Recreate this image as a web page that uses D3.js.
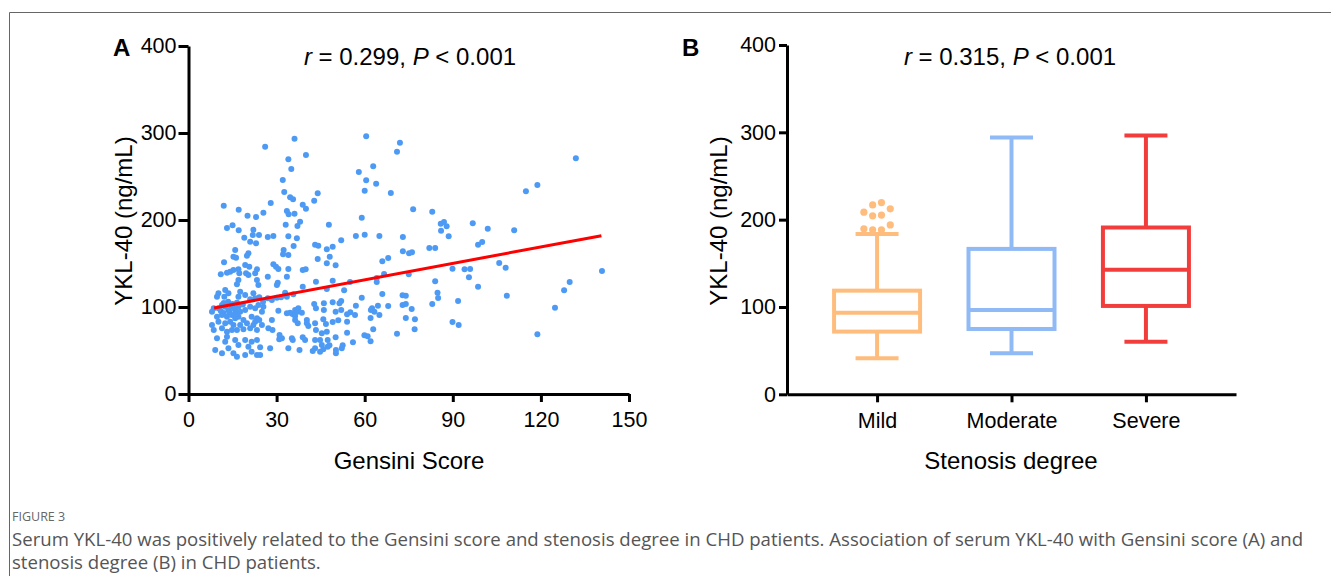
<!DOCTYPE html>
<html>
<head>
<meta charset="utf-8">
<script src="https://cdn.jsdelivr.net/npm/d3@7"></script>
<style>
  body { margin: 0; background: #fff; }
  svg { display: block; }
  .tick text { font-family: "Liberation Sans", Arial, sans-serif; }
</style>
</head>
<body>
<script>
// panel A : Gensini score vs YKL-40 (ng/mL)
var scatterPoints = [
  [36.1,293.5],[26.1,284.3],[40.0,274.7],[34.0,269.8],[35.0,258.6],[32.1,246],[32.6,232.2],[44.0,230.7],[34.6,226.1],[35.6,223.8],
  [42.8,222.2],[28.0,219.5],[12.0,216.4],[38.9,217.6],[40.0,213],[17.1,211.8],[25.5,208.4],[33.5,210.3],[34.1,206.6],[36.1,207.2],
  [20.1,204.9],[23.0,203.4],[38.0,198],[37.1,193.1],[33.1,194.6],[47.8,194.6],[13.1,190.8],[15.0,193.9],[17.1,188.2],[22.1,188.9],
  [21.9,182.8],[24.0,182.8],[19.0,179.7],[27.0,180.5],[28.9,181.6],[34.0,181.3],[36.9,179],
  [60.5,296.2],[72.0,288.9],[71.0,278.5],[62.9,261.7],[58.0,255.2],[60.5,245.6],[63.9,241.7],[60.0,233.7],[68.9,231],[76.5,212.3],
  [83.0,209.5],[59.0,202.7],[85.9,195.8],[87.0,197.7],[87.9,192.8],[86.0,187.7],[96.8,196.2],[88.6,181.3],[57.0,181.6],[60.0,183.1],
  [65.0,181.6],[73.0,180.5],[52.0,176.7],[47.1,166.3],[49.1,169.3],[48.1,157.8],[50.1,147.9],[73.0,164],[75.1,161.7],[76.1,162.9],
  [82.0,167.8],[84.0,167.8],[98.6,171.6],[68.0,156.3],[66.0,152.5],[89.9,144],[94.0,143.3],[95.9,143.7],[95.5,134.1],[98.6,123.3],
  [66.6,137.9],[75.0,137.6],[64.1,133.3],[64.1,128.7],[84.0,129.5],[49.1,130.3],[55.0,128.7],[47.1,120.7],[53.0,119.2],[84.8,116.4],
  [85.0,110.3],[66.0,114.9],[72.9,113.4],[74.0,113],[59.0,110.7],[91.8,106.9],[83.0,103.4],[52.0,106.9],[51.4,104.3],[49.1,105.4],
  [46.1,104.3],[57.0,101.5],[62.5,98.5],[63.3,94.6],[62.1,96.6],[64.5,101.5],[68.0,101.1],[72.9,102.3],[74.0,103.4],[76.0,97.7],
  [46.1,96.6],[50.1,94.6],[52.0,96.6],[55.1,93.9],[54.0,91.6],[56.7,90.8],[62.0,87.4],[65.0,90.8],[74.0,87.4],[77.1,85.9],
  [89.9,82.8],[92.0,79.3],[45.9,85.9],[46.8,80.5],[49.1,82.8],[51.0,84.7],[54.0,83.1],[62.9,74.4],[77.0,74.4],[47.1,71.6],
  [54.0,70.5],[59.9,67.5],[61.0,66.3],[62.0,60.6],[71.0,69.3],[50.1,65.2],[56.0,59.4],[44.8,62.1],[45.4,56.3],[45.9,51.4],
  [48.0,56],[50.2,50.6],[50.2,46.8],[52.2,52.5],[52.5,56],
  [131.9,270.9],[118.8,240.2],[114.9,233],[101.9,190],[110.9,188.2],[100.0,174.7],[105.8,150.6],[108.0,145.2],[108.4,113],[140.8,141.4],
  [129.8,128.7],[127.9,119.2],[124.8,99.2],[118.8,68.6],
  [35.8,170.1],[43.1,171.6],[44.2,170.5],[32.4,165.5],[34.0,159.8],[32.2,160.6],[44.0,155.2],[28.9,149.1],[29.8,146.3],[30.6,143.7],
  [23.3,143.3],[34.0,143.7],[38.9,142.5],[39.9,143.3],[47.1,150.2],[27.0,134.8],[33.5,134.8],[30.4,127.9],[30.1,125.3],[43.4,129.1],
  [38.9,123.3],[35.7,114.6],[32.9,116.4],[33.5,111.8],[27.0,110],[28.4,108],[25.4,106.1],[24.1,111.1],[30.1,110.7],[31.5,111.1],
  [23.8,102.3],[25.5,100.3],[25.0,94.6],[30.6,95.7],[33.5,92.8],[34.6,93.4],[35.4,92],[36.3,96.6],[37.4,98.5],[37.1,94.6],
  [36.3,89.7],[42.8,103.4],[43.4,98.5],[38.6,93.4],[40.3,85.1],[40.3,81.3],[40.8,78.2],[22.7,83.1],[24.1,85.1],[25.0,79.3],
  [28.4,85.1],[27.2,75.5],[28.6,73.6],[36.3,85.1],[37.2,81.3],[43.1,81.3],[43.4,73.6],[45.4,69.8],[31.0,67.8],[31.8,64],
  [30.9,62.9],[35.2,64],[35.5,62.1],[38.9,65.2],[39.7,62.1],[43.1,62.1],[43.1,52.5],[42.3,49.4],[24.4,53.7],[27.8,52.5],
  [37.8,50.6],[44.8,48.6],[34.0,52.5],[47.4,62.1],[47.4,54.4],[24.4,44.8],
  [21.0,175.1],[23.0,173.2],[15.9,165.5],[15.3,157.8],[16.2,156.7],[20.4,161.7],[19.9,159],[12.1,151.4],[19.3,148.3],[20.7,146.3],
  [11.0,137.6],[13.1,139.4],[14.2,140.6],[15.3,142.5],[17.0,143.3],[17.3,138.7],[19.6,138.7],[20.4,136.8],[22.7,138.7],[17.0,131],
  [16.5,126.1],[23.3,131],[23.8,125.3],[10.2,115.7],[9.7,111.8],[12.5,119.5],[13.6,115.7],[12.2,111.8],[17.6,117.6],[17.0,111.8],
  [19.3,113.8],[22.1,115.7],[22.7,110],[21.0,108.8],
  [8.6,98.5],[8.0,94.6],[10.2,98.5],[11.4,102.3],[12.5,100.3],[13.6,96.6],[14.8,100.3],[15.9,96.6],[17.0,100.3],[17.6,94.6],
  [19.3,96.6],[21.0,100.3],[22.7,98.5],[12.0,104.5],[13.5,106],[15.0,103.5],[16.5,105],[14.0,94],[12.0,93],[16.0,92],
  [18.5,103],[11.0,95.5],[15.5,98.5],
  [9.7,88.9],[11.4,90.8],[13.1,88.9],[14.8,90.8],[15.9,87],[17.0,88.9],[18.7,85.1],[21.5,88.9],[23.3,87],[10.2,83.1],
  [12.5,81.3],[14.2,83.1],[15.3,79.3],[17.6,79.3],[19.9,81.3],[22.1,79.3],
  [8.0,79.3],[8.6,73.6],[11.4,75.5],[13.1,71.6],[14.8,73.6],[16.5,73.6],[18.7,74.4],[21.0,75.5],[23.3,73.6],
  [9.7,64],[13.1,65.9],[12.5,60.1],[15.9,62.1],[17.0,56.3],[19.3,62.1],[21.5,60.1],[23.3,62.1],
  [9.1,50.6],[11.4,46.8],[13.6,52.5],[15.3,46.8],[16.5,42.9],[19.3,44.8],[20.4,54.4],[21.5,48.6],[23.3,44.8]
];
// fitted regression line, start and end as drawn
var fitLine = [[8.7, 98.9], [140.6, 182.0]];
var gensiniTicks = [0, 30, 60, 90, 120, 150];
var yklTicks = [0, 100, 200, 300, 400];

// panel B : box plots by stenosis degree
var stenosis = ["Mild", "Moderate", "Severe"];
var boxMin    = [41.3, 47.0, 60.3];
var boxQ1     = [71.8, 74.8, 101.2];
var boxMedian = [93.5, 96.6, 142.5];
var boxQ3     = [118.7, 166.5, 191.0];
var boxMax    = [183.7, 294.1, 296.4];
var mildOutliers = [188.3, 188.3, 189.5, 194.0, 204.4, 205.2, 208.6, 212.4, 216.9, 219.6];
var boxColors = ["#ffbd7d", "#8fbaf5", "#f23d3d"];

var FONT = '"Liberation Sans", Arial, sans-serif';
var TICK_SIZE = 21.5;
var width = 1331, height = 576;

var svg = d3.select("body").append("svg")
  .attr("width", width)
  .attr("height", height);

svg.append("rect").attr("width", width).attr("height", height).attr("fill", "#fff");

// figure frame (left + top)
svg.append("path")
  .attr("d", "M9.5,576 V12.5 H1331")
  .attr("fill", "none")
  .attr("stroke", "#666")
  .attr("stroke-width", 1);

var styleAxis = function(g, fontSize){
  g.select(".domain").attr("stroke", "#000").attr("stroke-width", 3);
  g.selectAll(".tick line").attr("stroke", "#000").attr("stroke-width", 3);
  g.selectAll(".tick text").attr("fill", "#000").style("font-size", fontSize + "px");
};

// ---------- panel A ----------
var xA = d3.scaleLinear().domain([0, 150]).range([188.5, 629]);
var yA = d3.scaleLinear().domain([0, 400]).range([394, 46]);

var gA = svg.append("g");

gA.append("g")
  .attr("transform", "translate(0,394)")
  .call(d3.axisBottom(xA).tickValues(gensiniTicks).tickSize(8).tickSizeOuter(0).tickPadding(10))
  .call(styleAxis, TICK_SIZE);

gA.append("g")
  .attr("transform", "translate(188.5,0)")
  .call(d3.axisLeft(yA).tickValues(yklTicks).tickSize(10).tickSizeOuter(0).tickPadding(2))
  .call(styleAxis, TICK_SIZE);

gA.append("g").selectAll("circle")
  .data(scatterPoints)
  .join("circle")
  .attr("cx", function(d){ return xA(d[0]); })
  .attr("cy", function(d){ return yA(d[1]); })
  .attr("r", 3)
  .attr("fill", "#4d9af5");

gA.append("path")
  .attr("d", d3.line().x(function(d){ return xA(d[0]); }).y(function(d){ return yA(d[1]); })(fitLine))
  .attr("stroke", "#ff0000")
  .attr("stroke-width", 3)
  .attr("fill", "none");

// ---------- panel B ----------
var xB = d3.scalePoint().domain(stenosis).range([787, 1236]).padding(0.67);
var yB = d3.scaleLinear().domain([0, 400]).range([394.3, 45]);

var gB = svg.append("g");

gB.append("g")
  .attr("transform", "translate(0,394.3)")
  .call(d3.axisBottom(xB).tickSize(8).tickSizeOuter(0).tickPadding(10))
  .call(styleAxis, TICK_SIZE);

gB.append("g")
  .attr("transform", "translate(787,0)")
  .call(d3.axisLeft(yB).tickValues(yklTicks).tickSize(8).tickSizeOuter(0).tickPadding(3))
  .call(styleAxis, TICK_SIZE);

var BOX_W = 86, CAP_W = 43;
var boxes = stenosis.map(function(c, i){
  return { cat: c, min: boxMin[i], q1: boxQ1[i], med: boxMedian[i], q3: boxQ3[i], max: boxMax[i], color: boxColors[i] };
});

var bx = gB.append("g").selectAll("g").data(boxes).join("g")
  .attr("stroke", function(d){ return d.color; })
  .attr("stroke-width", 4)
  .attr("fill", "none");

bx.append("line") // whisker low
  .attr("x1", function(d){ return xB(d.cat); }).attr("x2", function(d){ return xB(d.cat); })
  .attr("y1", function(d){ return yB(d.min); }).attr("y2", function(d){ return yB(d.q1); });
bx.append("line") // whisker high
  .attr("x1", function(d){ return xB(d.cat); }).attr("x2", function(d){ return xB(d.cat); })
  .attr("y1", function(d){ return yB(d.q3); }).attr("y2", function(d){ return yB(d.max); });
bx.append("line")
  .attr("x1", function(d){ return xB(d.cat) - CAP_W/2; }).attr("x2", function(d){ return xB(d.cat) + CAP_W/2; })
  .attr("y1", function(d){ return yB(d.min); }).attr("y2", function(d){ return yB(d.min); });
bx.append("line")
  .attr("x1", function(d){ return xB(d.cat) - CAP_W/2; }).attr("x2", function(d){ return xB(d.cat) + CAP_W/2; })
  .attr("y1", function(d){ return yB(d.max); }).attr("y2", function(d){ return yB(d.max); });
bx.append("rect")
  .attr("x", function(d){ return xB(d.cat) - BOX_W/2; })
  .attr("width", BOX_W)
  .attr("y", function(d){ return yB(d.q3); })
  .attr("height", function(d){ return yB(d.q1) - yB(d.q3); })
  .attr("fill", "#fff");
bx.append("line")
  .attr("x1", function(d){ return xB(d.cat) - BOX_W/2; }).attr("x2", function(d){ return xB(d.cat) + BOX_W/2; })
  .attr("y1", function(d){ return yB(d.med); }).attr("y2", function(d){ return yB(d.med); });

// outliers spread sideways so they don't overlap (like GraphPad)
var R_OUT = 3.6;
var placed = [];
var offsets = [-4.4, 4.4, -13.2, 13.2, -22, 22];
mildOutliers.slice().sort(d3.ascending).forEach(function(v){
  var cy = yB(v);
  var dx = offsets.find(function(o){
    return placed.every(function(p){ return Math.hypot(p.dx - o, p.cy - cy) >= 8; });
  });
  placed.push({ dx: dx === undefined ? 0 : dx, cy: cy });
});
gB.append("g").selectAll("circle").data(placed).join("circle")
  .attr("cx", function(d){ return xB("Mild") + d.dx; })
  .attr("cy", function(d){ return d.cy; })
  .attr("r", R_OUT)
  .attr("fill", boxColors[0]);

// ---------- texts ----------
var txt = function(x, y, s, opts){
  opts = opts || {};
  return svg.append("text")
    .attr("x", x).attr("y", y)
    .attr("text-anchor", opts.anchor || "start")
    .attr("font-family", FONT)
    .attr("font-size", opts.size || 24)
    .attr("font-weight", opts.weight || "normal")
    .attr("fill", opts.fill || "#000")
    .attr("transform", opts.rotate ? "rotate(-90," + x + "," + y + ")" : null)
    .text(s);
};

txt(113, 56, "A", { weight: "bold" });
txt(682, 56, "B", { weight: "bold" });

var stat = function(x, r, p){
  var t = svg.append("text")
    .attr("x", x).attr("y", 65)
    .attr("text-anchor", "middle")
    .attr("font-family", FONT)
    .attr("font-size", 24);
  t.append("tspan").attr("font-style", "italic").text("r");
  t.append("tspan").text(" = " + r + ", ");
  t.append("tspan").attr("font-style", "italic").text("P");
  t.append("tspan").text(" < " + p);
};
stat(410, "0.299", "0.001");
stat(1010, "0.315", "0.001");

txt(409, 469, "Gensini Score", { anchor: "middle" });
txt(1011, 469, "Stenosis degree", { anchor: "middle" });
txt(132, 221, "YKL-40 (ng/mL)", { anchor: "middle", rotate: true });
txt(727, 221, "YKL-40 (ng/mL)", { anchor: "middle", rotate: true });

// caption
var CAP_FONT = '"Open Sans", "Noto Sans", sans-serif';
svg.append("text").attr("x", 12).attr("y", 521)
  .attr("font-family", CAP_FONT).attr("font-size", 12.5).attr("fill", "#666")
  .text("FIGURE 3");
svg.append("text").attr("x", 12).attr("y", 546)
  .attr("font-family", CAP_FONT).attr("font-size", 18.6).attr("fill", "#555")
  .text("Serum YKL-40 was positively related to the Gensini score and stenosis degree in CHD patients. Association of serum YKL-40 with Gensini score (A) and");
svg.append("text").attr("x", 12).attr("y", 569)
  .attr("font-family", CAP_FONT).attr("font-size", 18.6).attr("fill", "#555")
  .text("stenosis degree (B) in CHD patients.");
</script>
</body>
</html>
